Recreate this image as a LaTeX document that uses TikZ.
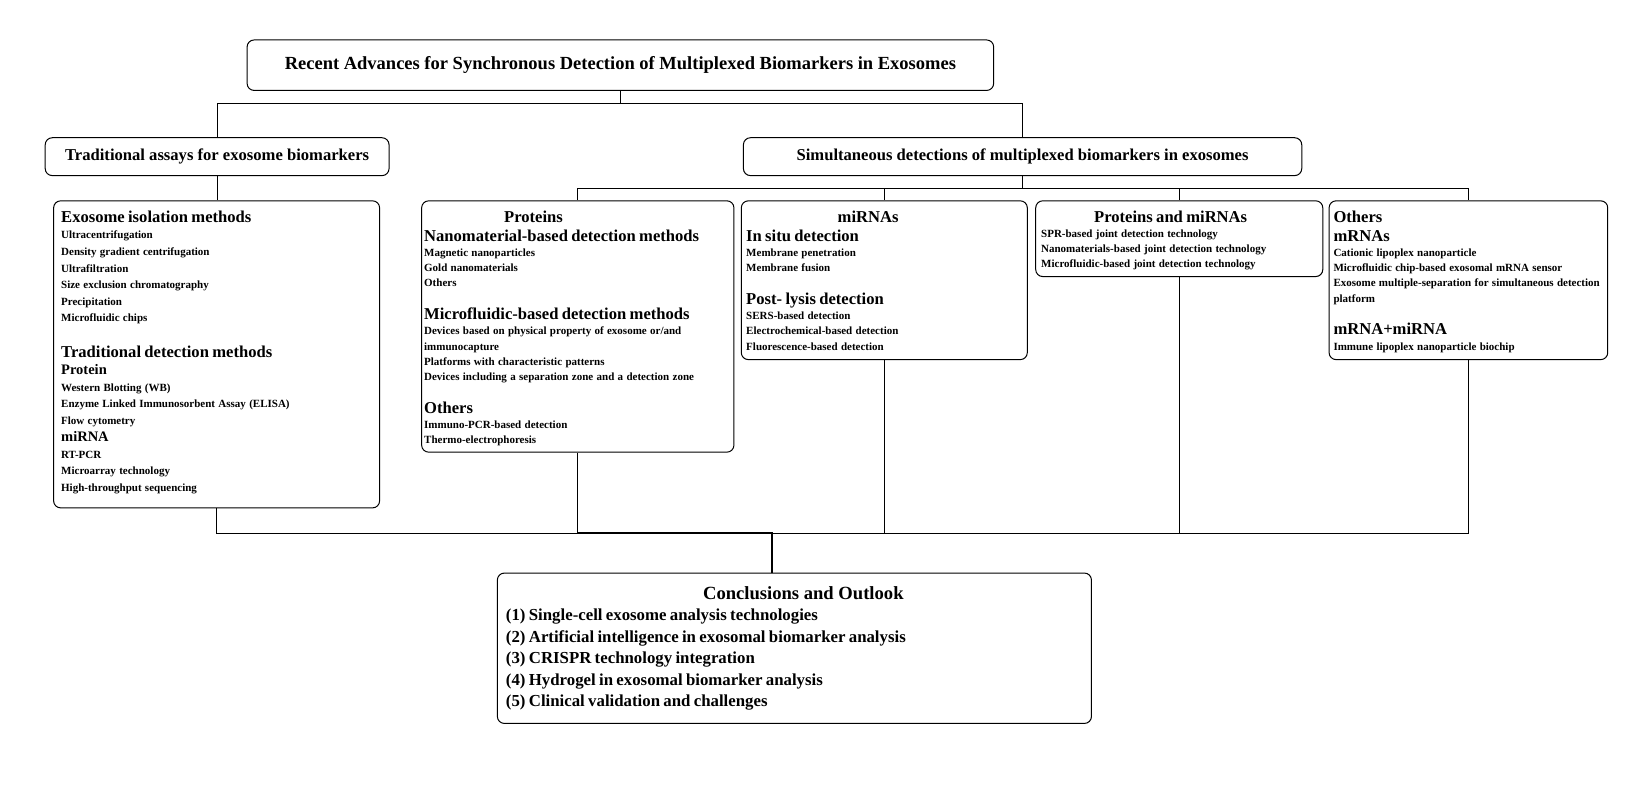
\documentclass[tikz,border=0pt]{standalone}
\usepackage{fontspec}
\setmainfont{Liberation Serif}
\usetikzlibrary{positioning,fit}
\setlength{\parindent}{0pt}
% heading, sub heading and item lines inside the boxes
\newcommand{\hdg}[1]{{\fontsize{16.6}{17.4}\selectfont #1\par}}
\newcommand{\shdg}[1]{{\fontsize{14.5}{17.4}\selectfont #1\par}}
\newcommand{\itms}[2][15.25]{{\fontsize{11}{#1}\selectfont #2\par}}

\begin{document}
\begin{tikzpicture}[x=1.0515pt,y=-1.0515pt,
    box/.style={draw,rounded corners=7pt,line width=1pt,inner sep=0pt},
    txt/.style={anchor=north west,align=left,inner sep=0pt,font=\bfseries},
    lnk/.style={line width=1pt}]
    \useasboundingbox (0,0) rectangle (1567.3,756.1);
    
    % create the boxes
    \node (title) [box,fit={(235,38) (945,86)},label={[font=\fontsize{18.5}{20}\selectfont\bfseries]center:Recent Advances for Synchronous Detection of Multiplexed Biomarkers in Exosomes}] {};
    \node (trad) [box,fit={(43,131) (370,167)},label={[font=\fontsize{16.6}{18}\selectfont\bfseries]center:Traditional assays for exosome biomarkers}] {};
    \node (simul) [box,fit={(707,131) (1238,167)},label={[font=\fontsize{16.6}{18}\selectfont\bfseries]center:Simultaneous detections of multiplexed biomarkers in exosomes}] {};
    
    \node (iso) [box,fit={(51,191) (361,483)}] {};
    \node (prot) [box,fit={(401,191) (698,430)}] {};
    \node (mirna) [box,fit={(705,191) (977,342)}] {};
    \node (pm) [box,fit={(985,191) (1258,263)}] {};
    \node (oth) [box,fit={(1264,191) (1529,342)}] {};
    \node (concl) [box,fit={(473,545) (1038,688)}] {};
    
    % box contents
    \node (isotxt) [txt,text width=320] at (58,200.2) {%
        \hdg{Exosome isolation methods}
        \itms[16.6]{Ultracentrifugation\\Density gradient centrifugation\\Ultrafiltration\\Size exclusion chromatography\\Precipitation\\Microfluidic chips}
        \vspace{17.9pt}
        \hdg{Traditional detection methods}
        \shdg{Protein}
        \itms[16.6]{Western Blotting (WB)\\Enzyme Linked Immunosorbent Assay (ELISA)\\Flow cytometry}
        \shdg{miRNA}
        \itms[16.6]{RT-PCR\\Microarray technology\\High-throughput sequencing}};
    \node (prottxt) [txt,text width=330] at (403.2,200.2) {%
        \hdg{\hspace*{80pt}Proteins}
        \vspace{1.6pt}
        \hdg{Nanomaterial-based detection methods}
        \itms{Magnetic nanoparticles\\Gold nanomaterials\\Others}
        \vspace{15.25pt}
        \hdg{Microfluidic-based detection methods}
        \itms{Devices based on physical property of exosome or/and\\immunocapture\\Platforms with characteristic patterns\\Devices including a separation zone and a detection zone}
        \vspace{15.25pt}
        \hdg{Others}
        \itms{Immuno-PCR-based detection\\Thermo-electrophoresis}};
    \node (mirnatxt) [txt,text width=300] at (709.5,200.2) {%
        \hdg{\hspace*{91.5pt}miRNAs}
        \vspace{1.6pt}
        \hdg{In situ detection}
        \itms{Membrane penetration\\Membrane fusion}
        \vspace{15.25pt}
        \hdg{Post- lysis detection}
        \itms{SERS-based detection\\Electrochemical-based detection\\Fluorescence-based detection}};
    \node (pmtxt) [txt,text width=300] at (990,200.2) {%
        \hdg{\hspace*{53pt}Proteins and miRNAs}
        \itms{SPR-based joint detection technology\\Nanomaterials-based joint detection technology\\Microfluidic-based joint detection technology}};
    \node (othtxt) [txt,text width=330] at (1268,200.2) {%
        \hdg{Others}
        \vspace{1.6pt}
        \hdg{mRNAs}
        \itms{Cationic lipoplex nanoparticle\\Microfluidic chip-based exosomal mRNA sensor\\Exosome multiple-separation for simultaneous detection\\platform}
        \vspace{15.25pt}
        \hdg{mRNA+miRNA}
        \itms{Immune lipoplex nanoparticle biochip}};
    \node (concltitle) [anchor=base,inner sep=0pt,font=\fontsize{18.6}{20}\selectfont\bfseries] at (764,570) {Conclusions and Outlook};
    \node (concltxt) [txt,text width=580] at (481,578.8) {%
        {\fontsize{16.8}{21.55}\selectfont (1) Single-cell exosome analysis technologies\\(2) Artificial intelligence in exosomal biomarker analysis\\(3) CRISPR technology integration\\(4) Hydrogel in exosomal biomarker analysis\\(5) Clinical validation and challenges\par}};
    
    % connect the boxes
    \draw[lnk] (title.south) -- ++(0,12) -| (trad.north);
    \draw[lnk] (title.south) -- ++(0,12) -| (simul.north);
    \draw[lnk] (trad.south) -- (trad.south |- iso.north);
    \foreach \b in {prot,mirna,pm,oth}
        \draw[lnk] (simul.south) -- ++(0,12) -| (\b.north);
    
    \coordinate (bus) at (0,507);
    \coordinate (drop) at (734,507);
    \draw[lnk] (iso.south) |- (oth.south |- bus) -- (oth.south);
    \foreach \b in {prot,mirna,pm}
        \draw[lnk] (\b.south) -- (\b.south |- bus);
    \draw[line width=1.8pt] (prot.south |- bus) -- (drop) -- (drop |- concl.north);
\end{tikzpicture}
\end{document}
